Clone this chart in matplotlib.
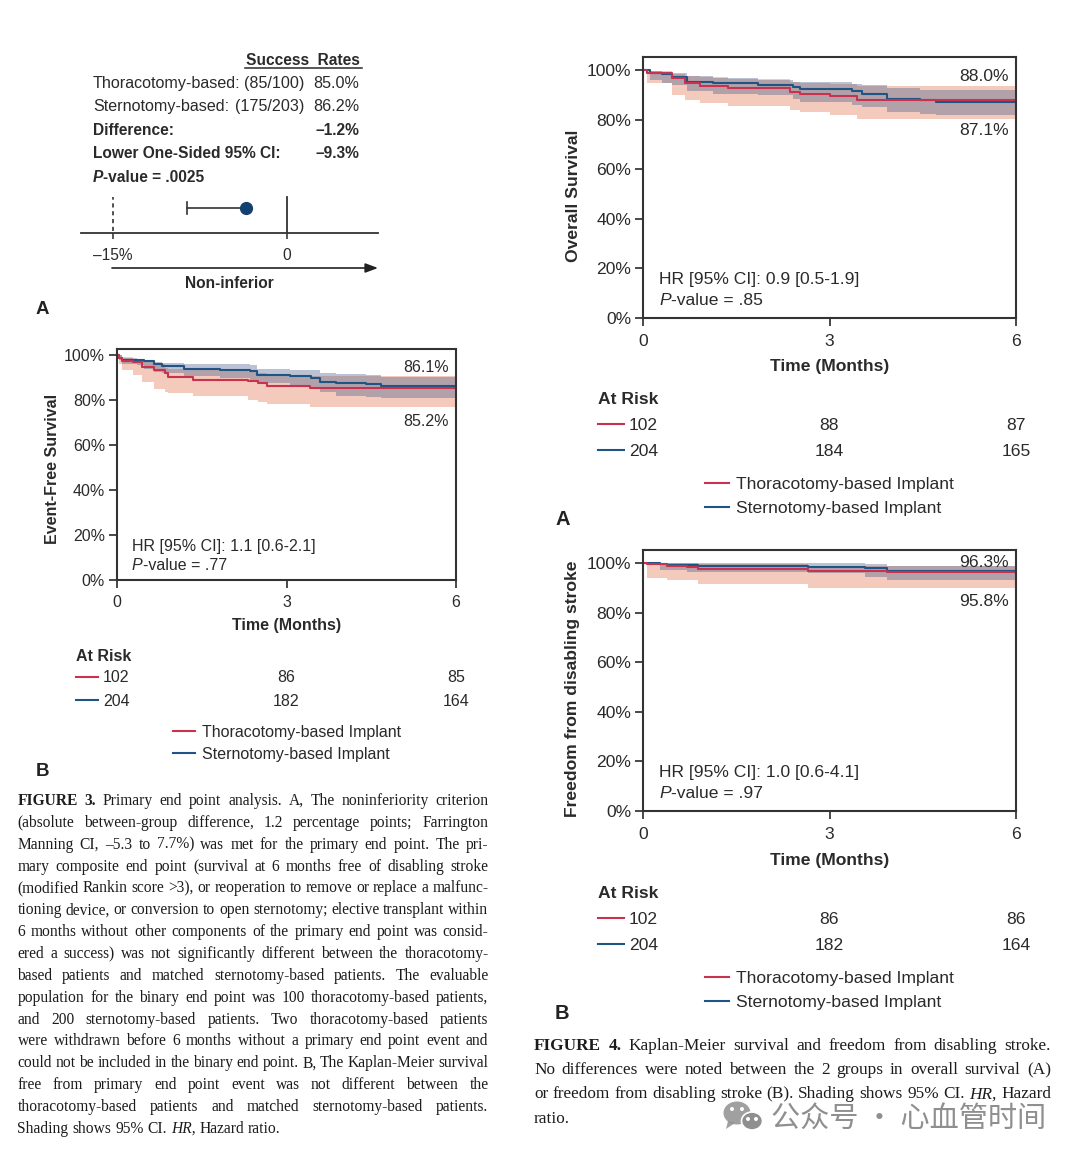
import matplotlib
matplotlib.use("Agg")
import matplotlib.pyplot as plt
from matplotlib.patches import Ellipse, Polygon
from matplotlib.ticker import FuncFormatter

W, H = 1080, 1161
SANS = ['Liberation Sans', 'DejaVu Sans']
SERIF = ['Liberation Serif', 'DejaVu Serif']
RED = '#c8324f'
BLUE = '#1f5584'
RED_BAND = '#efb9a6'
BLUE_BAND = '#4a5f8c'
TXT = '#2a2a2a'

# ---------- data ----------
# Panel 3B: event-free survival
b3_red_t = [0, 0.03, 0.09, 0.29, 0.44, 0.65, 0.85, 0.91, 1.35, 2.32, 2.50, 2.65, 3.41]
b3_red_s = [100, 98.8, 97.4, 96.9, 94.7, 93.2, 91.8, 90.3, 89.1, 88.5, 87.4, 86.2, 85.2]
b3_red_low = [100, 96.0, 93.2, 91.0, 88.0, 85.0, 83.4, 83.0, 81.8, 80.0, 79.2, 78.2, 76.8]
b3_red_up = [100, 99.8, 99.3, 98.4, 97.0, 95.9, 94.3, 94.0, 93.2, 92.6, 92.0, 91.0, 90.6]
b3_blue_t = [0, 0.03, 0.09, 0.35, 0.47, 0.65, 0.79, 1.18, 1.82, 2.35, 2.47, 3.06, 3.44, 3.59, 3.88, 4.41, 4.68]
b3_blue_s = [100, 98.8, 97.6, 97.6, 97.4, 96.2, 95.0, 94.0, 93.2, 92.8, 91.3, 90.6, 90.0, 88.0, 87.4, 87.0, 86.1]
b3_blue_low = [100, 98.0, 96.0, 95.5, 94.0, 92.5, 91.8, 90.5, 89.8, 88.0, 87.5, 86.6, 85.0, 83.5, 81.8, 81.2, 80.7]
b3_blue_up = [100, 99.8, 98.8, 98.4, 97.6, 97.0, 96.5, 96.2, 95.9, 95.4, 94.0, 93.5, 93.2, 91.8, 91.4, 91.0, 90.3]

# Panel 4A: overall survival
a4_red_t = [0, 0.06, 0.46, 0.68, 0.92, 1.37, 2.36, 2.52, 3.01, 3.44]
a4_red_s = [100, 98.9, 96.6, 94.6, 93.5, 92.6, 91.2, 90.5, 89.6, 88.0]
a4_red_low = [100, 94.6, 89.9, 87.8, 86.5, 85.4, 84.0, 83.0, 81.8, 80.4]
a4_red_up = [100, 99.6, 98.4, 97.6, 97.2, 96.2, 95.0, 94.6, 94.3, 93.6]
a4_blue_t = [0, 0.11, 0.30, 0.46, 0.70, 1.13, 1.85, 2.42, 2.52, 3.36, 3.52, 3.92, 4.46, 4.72]
a4_blue_s = [100, 98.9, 98.4, 97.3, 95.3, 94.6, 93.9, 93.2, 92.2, 91.6, 90.5, 88.5, 87.8, 87.1]
a4_blue_low = [100, 95.9, 94.8, 93.9, 91.5, 90.5, 89.9, 88.5, 87.2, 86.0, 85.1, 83.1, 82.4, 81.8]
a4_blue_up = [100, 99.7, 99.2, 98.6, 97.6, 96.6, 96.0, 95.3, 95.0, 94.2, 93.9, 92.6, 91.9, 91.9]

# Panel 4B: freedom from disabling stroke
b4_red_t = [0, 0.06, 0.38, 0.70, 0.89, 2.66, 3.92]
b4_red_s = [100, 99.5, 98.8, 98.5, 97.6, 96.6, 96.3]
b4_red_low = [100, 93.9, 93.2, 93.2, 91.5, 90.1, 90.1]
b4_red_up = [100, 100, 100, 99.8, 99.5, 98.9, 98.9]
b4_blue_t = [0, 0.27, 0.38, 0.70, 0.89, 2.66, 3.57, 3.92]
b4_blue_s = [100, 99.6, 99.2, 99.2, 98.9, 98.5, 97.9, 96.9]
b4_blue_low = [100, 97.2, 97.2, 96.5, 96.5, 95.9, 94.5, 93.2]
b4_blue_up = [100, 100, 100, 100, 100, 99.9, 99.5, 98.9]

time_ticks = [0, 3, 6]
pct_ticks = [0, 20, 40, 60, 80, 100]

# Panel 3A: non-inferiority
margin = -15
interval_low = -8.6
interval_point = -3.5
rates_rows = ["Thoracotomy-based:", "Sternotomy-based:"]
rates_counts = ["(85/100)", "(175/203)"]
rates_vals = ["85.0%", "86.2%"]
diff_val = "\u20131.2%"
ci_val = "\u20139.3%"

at_risk_3b = ([102, 86, 85], [204, 182, 164])
at_risk_4a = ([102, 88, 87], [204, 184, 165])
at_risk_4b = ([102, 86, 86], [204, 182, 164])

cap3 = [
 "**FIGURE** **3.** Primary end point analysis. A, The noninferiority criterion",
 "(absolute between-group difference, 1.2 percentage points; Farrington",
 "Manning CI, \u20135.3 to 7.7%) was met for the primary end point. The pri-",
 "mary composite end point (survival at 6 months free of disabling stroke",
 "(modified Rankin score >3), or reoperation to remove or replace a malfunc-",
 "tioning device, or conversion to open sternotomy; elective transplant within",
 "6 months without other components of the primary end point was consid-",
 "ered a success) was not significantly different between the thoracotomy-",
 "based patients and matched sternotomy-based patients. The evaluable",
 "population for the binary end point was 100 thoracotomy-based patients,",
 "and 200 sternotomy-based patients. Two thoracotomy-based patients",
 "were withdrawn before 6 months without a primary end point event and",
 "could not be included in the binary end point. B, The Kaplan-Meier survival",
 "free from primary end point event was not different between the",
 "thoracotomy-based patients and matched sternotomy-based patients.",
 "Shading shows 95% CI. *HR,* Hazard ratio.",
]
cap4 = [
 "**FIGURE** **4.** Kaplan-Meier survival and freedom from disabling stroke.",
 "No differences were noted between the 2 groups in overall survival (A)",
 "or freedom from disabling stroke (B). Shading shows 95% CI. *HR,* Hazard",
 "ratio.",
]

# ---------- helpers ----------
fig = plt.figure(figsize=(W / 100, H / 100), dpi=100, facecolor='white')
ov = fig.add_axes([0, 0, 1, 1], zorder=5)
ov.set_xlim(0, W)
ov.set_ylim(H, 0)
ov.axis('off')
ov.patch.set_alpha(0)


def T(x, y, s, size=11, weight='normal', style='normal', ha='left', color=TXT, family=SANS, **kw):
    return ov.text(x, y + 1.6, s, fontsize=size, fontweight=weight, fontstyle=style, ha=ha, va='center',
                   color=color, family=family, **kw)


def px_axes(x0, x1, ytop, ybot):
    return fig.add_axes([x0 / W, 1 - ybot / H, (x1 - x0) / W, (ybot - ytop) / H])


def band(ax, t, s, low, up, colour, alpha):
    ax.fill_between(t + [6], low + [low[-1]], up + [up[-1]], step='post', color=colour, alpha=alpha, lw=0)


def line(ax, t, s, low, up, colour):
    ax.step(t + [6], s + [s[-1]], where='post', color=colour, lw=1.5)


def panel(box, red, blue, hr, pv, lab_hi, lab_lo, ylabel, risk, xlabel_y, fs, geo):
    x0, x1, ytop, y100, y0 = box
    ax = px_axes(x0, x1, ytop, y0)
    ax.set_xlim(0, 6)
    ax.set_ylim(0, 100 + (y100 - ytop) / ((y0 - y100) / 100))
    band(ax, *red, RED_BAND, 0.75)
    band(ax, *blue, BLUE_BAND, 0.38)
    line(ax, *blue, BLUE)
    line(ax, *red, RED)
    for sp in ax.spines.values():
        sp.set_linewidth(1.5)
        sp.set_color('#333333')
    ax.set_xticks(time_ticks)
    ax.set_yticks(pct_ticks)
    ax.yaxis.set_major_formatter(FuncFormatter(lambda v, p: f"{int(v)}%"))
    ax.tick_params(length=6, width=1.2, labelsize=fs, colors=TXT)
    ax.tick_params(axis='y', pad=2.6)
    ax.tick_params(axis='x', pad=geo['pad'])
    for l in ax.get_xticklabels() + ax.get_yticklabels():
        l.set_family(SANS)
    T(x1 - 7, lab_hi[1], lab_hi[0], fs, ha='right')
    T(x1 - 7, lab_lo[1], lab_lo[0], fs, ha='right')
    T(x0 + geo['hrx'], y0 - geo['hr_dy'], hr, fs)
    T(x0 + geo['hrx'], y0 - geo['p_dy'], "P", fs, style='italic')
    T(x0 + geo['hrx'] + fs * 0.93, y0 - geo['p_dy'], "-value = " + pv, fs)
    T(geo['ylx'], (y0 + y100) / 2, ylabel, fs, weight='bold', rotation=90, ha='center')
    mid = (x0 + x1) / 2
    T(mid, xlabel_y, "Time (Months)", fs, weight='bold', ha='center')
    T(geo['rx'], geo['ry0'], "At Risk", fs, weight='bold')
    for vals, col, y in zip(risk, (RED, BLUE), (geo['ry1'], geo['ry2'])):
        ov.plot([geo['rx'], geo['rx'] + geo['rl']], [y, y], color=col, lw=1.5)
        T(geo['rx'] + geo['rl'] + 5, y - 0.6, str(vals[0]), fs)
        T(mid, y - 0.6, str(vals[1]), fs, ha='center')
        T(x1, y - 0.6, str(vals[2]), fs, ha='center')
    for name, col, y in (("Thoracotomy-based Implant", RED, geo['ly1']), ("Sternotomy-based Implant", BLUE, geo['ly2'])):
        ov.plot([geo['lx'], geo['lx'] + geo['ll']], [y, y], color=col, lw=1.5)
        T(geo['lx'] + geo['ll'] + 7, y - 0.6, name, fs)
    return ax


def justified(lines, x0, x1, y0, dy, size):
    r = fig.canvas.get_renderer()
    for i, text in enumerate(lines):
        words = []
        for w in text.split(' '):
            wt, st = 'normal', 'normal'
            if w.startswith('**'):
                w, wt = w.strip('*'), 'bold'
            elif w.startswith('*'):
                w, st = w.strip('*'), 'italic'
            words.append((w, wt, st))
        arts = [ov.text(0, y0 + i * dy, w, fontsize=size, fontweight=wt, fontstyle=st, family=SERIF,
                        color='#1c1c1c', va='center', ha='left') for w, wt, st in words]
        widths = [a.get_window_extent(r).width for a in arts]
        natural = size * 100 / 72 * 0.25
        gap = natural if i == len(lines) - 1 else (x1 - x0 - sum(widths)) / (len(words) - 1)
        x = x0
        for a, w_ in zip(arts, widths):
            a.set_x(x)
            x += w_ + gap


# ---------- Panel 3A ----------
TS = 11.6
T(360, 59, "Success  Rates", TS - 0.4, weight='bold', ha='right')
ov.plot([245, 362], [67.5, 67.5], color=TXT, lw=1.1)
for name, cnt, val, y in zip(rates_rows, rates_counts, rates_vals, (81.5, 105)):
    T(93, y, name, TS)
    T(304, y, cnt, TS, ha='right')
    T(359, y, val, TS, ha='right')
T(93, 129, "Difference:", TS - 0.4, weight='bold')
T(359, 129, diff_val, TS - 0.4, weight='bold', ha='right')
T(93, 151.5, "Lower One-Sided 95% CI:", TS - 0.4, weight='bold')
T(359, 151.5, ci_val, TS - 0.4, weight='bold', ha='right')
T(93, 175.5, "P", TS - 0.4, weight='bold', style='italic')
T(103, 175.5, "-value = .0025", TS - 0.4, weight='bold')

fa = px_axes(81, 378, 190, 233)
fa.set_xlim(margin - 31.5 / 11.6, 91.5 / 11.6)
fa.set_ylim(0, 1)
fa.patch.set_alpha(0)
for k in ('top', 'left', 'right'):
    fa.spines[k].set_visible(False)
fa.spines['bottom'].set_linewidth(1.3)
fa.spines['bottom'].set_color('#333333')
fa.set_yticks([])
fa.set_xticks([margin, 0])
fa.set_xticklabels(["\u201315%", "0"], fontsize=11.2, color=TXT, family=SANS)
fa.tick_params(axis='x', length=4, width=1.1, pad=6.5, colors=TXT)
fa.plot([margin, margin], [0.05, 0.84], color='#333333', lw=1.2, ls=(0, (2.5, 2.2)))
fa.plot([0, 0], [0, 0.84], color='#333333', lw=1.3)
fa.plot([interval_low, interval_point], [0.58, 0.58], color='#333333', lw=1.2)
fa.plot([interval_low, interval_low], [0.44, 0.72], color='#333333', lw=1.2)
fa.plot([interval_point], [0.58], 'o', color='#12406f', ms=8.5)
ov.annotate("", xy=(378, 268), xytext=(112, 268),
            arrowprops=dict(arrowstyle='-|>,head_length=0.75,head_width=0.28', color='#222222', lw=1.2,
                            shrinkA=0, shrinkB=0))
T(229, 282, "Non-inferior", TS - 0.4, weight='bold', ha='center')
T(36, 307.5, "A", 13.5, weight='bold', color='#222222')

# ---------- Panel 3B ----------
geoL = dict(pad=4.5, hrx=15, hr_dy=35, p_dy=16, ylx=53, rx=76, rl=22, ry0=655, ry1=677, ry2=700,
            lx=173, ll=22, ly1=731, ly2=753)
panel((117, 456, 349, 355, 580),
      (b3_red_t, b3_red_s, b3_red_low, b3_red_up), (b3_blue_t, b3_blue_s, b3_blue_low, b3_blue_up),
      "HR [95% CI]: 1.1 [0.6-2.1]", ".77", ("86.1%", 366), ("85.2%", 420),
      "Event-Free Survival", at_risk_3b, 623.5, 11.5, geoL)
T(36, 769.5, "B", 13.5, weight='bold', color='#222222')

# ---------- Panel 4A, 4B ----------
geoA = dict(pad=5.5, hrx=16, hr_dy=40, p_dy=19, ylx=573, rx=598, rl=26, ry0=398, ry1=424, ry2=450,
            lx=705, ll=24, ly1=483, ly2=507)
panel((643, 1016, 57, 70, 318),
      (a4_red_t, a4_red_s, a4_red_low, a4_red_up), (a4_blue_t, a4_blue_s, a4_blue_low, a4_blue_up),
      "HR [95% CI]: 0.9 [0.5-1.9]", ".85", ("88.0%", 75), ("87.1%", 129),
      "Overall Survival", at_risk_4a, 364.5, 12.6, geoA)
T(555, 517.5, "A", 14.5, weight='bold', color='#222222')

geoB = dict(geoA, ry0=892, ry1=918, ry2=944, ly1=977, ly2=1001)
panel((643, 1016, 550, 563, 811),
      (b4_red_t, b4_red_s, b4_red_low, b4_red_up), (b4_blue_t, b4_blue_s, b4_blue_low, b4_blue_up),
      "HR [95% CI]: 1.0 [0.6-4.1]", ".97", ("96.3%", 561), ("95.8%", 600),
      "Freedom from disabling stroke", at_risk_4b, 858.5, 12.6, geoB)
T(555, 1011.5, "B", 14.5, weight='bold', color='#222222')

# ---------- captions ----------
fig.canvas.draw()
justified(cap3, 17.5, 488.5, 801, 21.85, 11.2)
justified(cap4, 534, 1051, 1046, 24.2, 12.4)

# ---------- watermark ----------
WM = '#8f8f8f'
ov.add_patch(Ellipse((737, 1113), 27, 23, color=WM, alpha=0.85, lw=0))
ov.add_patch(Polygon([[728, 1121], [726, 1129], [735, 1123]], color=WM, alpha=0.85, lw=0))
ov.add_patch(Ellipse((752, 1121), 21, 18, fc=WM, ec='white', lw=1.2))
for (cx, cy) in ((732, 1109), (742, 1109), (748, 1119), (756, 1119)):
    ov.add_patch(Ellipse((cx, cy), 4, 4, color='white', lw=0))
ov.text(771, 1120, "公众号 · 心血管时间", fontsize=21, color=WM, va='center', ha='left',
        family=['Noto Sans CJK SC', 'DejaVu Sans'])

fig.savefig("out.png", dpi=100, facecolor='white')
